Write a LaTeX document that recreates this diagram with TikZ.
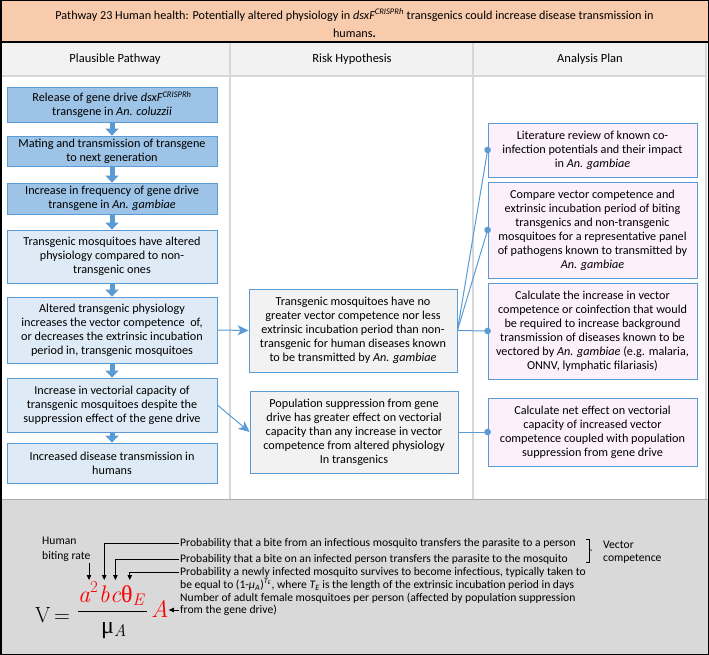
\documentclass[tikz,border=0pt]{standalone}
\usepackage{fontspec}
\newfontfamily\carl{Carlito}
\newfontfamily\grk{Liberation Serif}
\usetikzlibrary{arrows.meta}
\definecolor{titleor}{RGB}{248,203,173}
\definecolor{hdrgray}{RGB}{242,242,242}
\definecolor{gridgray}{RGB}{215,215,215}
\definecolor{formgray}{RGB}{217,217,217}
\definecolor{bordblue}{RGB}{91,155,213}
\definecolor{darkblue}{RGB}{157,195,230}
\definecolor{lightblue}{RGB}{222,235,247}
\definecolor{boxgray}{RGB}{242,242,242}
\definecolor{boxpink}{RGB}{252,240,252}
\definecolor{fred}{RGB}{255,0,0}
\begin{document}
\begin{tikzpicture}[x=1pt,y=-1pt,
  box/.style={draw=bordblue, line width=0.8pt, align=center, inner sep=0pt,
    font=\carl\fontsize{12.2}{14}\selectfont},
  lbox/.style={box, minimum width=210pt},
  dbox/.style={lbox, fill=darkblue},
  ebox/.style={lbox, fill=lightblue},
  mbox/.style={box, fill=boxgray, minimum width=208pt},
  rbox/.style={box, fill=boxpink, minimum width=209pt},
  barrow/.style={draw=bordblue, line width=5pt, -{Triangle[width=13pt,length=7pt]}},
  harrow/.style={draw=bordblue, line width=1pt, -{Stealth[length=11pt,width=10pt,inset=3pt]}},
  dotline/.style={draw=bordblue, line width=1pt, -{Circle[length=6.5pt,width=6.5pt]}, shorten >=-3.25pt},
  hdr/.style={font=\carl\fontsize{12.5}{14}\selectfont, inner sep=1pt},
  flab/.style={font=\carl\fontsize{11.6}{12}\selectfont, inner sep=1pt, anchor=west, align=left},
  fm/.style={inner sep=0pt, font=\fontsize{24}{28}\selectfont, anchor=base west},
  farrow/.style={draw=black, line width=0.8pt, -{Triangle[length=5pt,width=4.5pt]}}
]
\useasboundingbox (0,0) rectangle (709,655);
% frame and table
\fill[titleor] (0,0) rectangle (709,42);
\fill[hdrgray] (1,43) rectangle (707,76);
\fill[white] (1,76) rectangle (707,499);
\draw[gridgray, line width=1.5pt] (1,76) -- (707,76);
\draw[gridgray, line width=1.5pt] (230,43) -- (230,499);
\draw[gridgray, line width=1.5pt] (473,43) -- (473,499);
\draw[gridgray, line width=1.5pt] (706,43) -- (706,499);
\fill[formgray] (0,499) rectangle (709,655);
\draw[gridgray!80!black, line width=0.8pt] (1,499) -- (708,499);
\draw[black, line width=2pt] (0,42) -- (709,42);
\draw[black, line width=1.5pt] (0.75,0.75) rectangle (708.25,654.25);

\node[font=\carl\fontsize{12.2}{18}\selectfont, align=center] (title) at (354.5,23)
  {Pathway 23 Human health: Potentially altered physiology in {\itshape dsxF\textsuperscript{CRISPRh}} transgenics could increase disease transmission in\\humans{\bfseries .}};
\node[hdr] (h1) at (115,59) {Plausible Pathway};
\node[hdr] (h2) at (352,59) {Risk Hypothesis};
\node[hdr] (h3) at (590,59) {Analysis Plan};

% left column
\node[dbox, minimum height=35pt] (b1) at (112,104.5) {Release of gene drive {\itshape dsxF\textsuperscript{CRISPRh}}\\transgene in {\itshape An. coluzzii}};
\node[dbox, minimum height=30pt] (b2) at (112,151) {Mating and transmission of transgene\\to next generation};
\node[dbox, minimum height=31pt] (b3) at (112,198.5) {Increase in frequency of gene drive\\transgene in {\itshape An. gambiae}};
\node[ebox, minimum height=53pt] (b4) at (112,256.5) {Transgenic mosquitoes have altered\\physiology compared to non-\\transgenic ones};
\node[ebox, minimum height=66pt] (b5) at (112,330) {Altered transgenic physiology\\increases the vector competence\ \ of,\\or decreases the extrinsic incubation\\period in, transgenic mosquitoes};
\node[ebox, minimum height=54pt] (b6) at (112,405) {Increase in vectorial capacity of\\transgenic mosquitoes despite the\\suppression effect of the gene drive};
\node[ebox, minimum height=40pt] (b7) at (112,463) {Increased disease transmission in\\humans};
\draw[barrow] (b1) -- (b2);
\draw[barrow] (b2) -- (b3);
\draw[barrow] (b3) -- (b4);
\draw[barrow] (b4) -- (b5);
\draw[barrow] (b5) -- (b6);
\draw[barrow] (b6) -- (b7);

% middle column
\node[mbox, minimum height=83pt] (m1) at (353,330.5) {Transgenic mosquitoes have no\\greater vector competence nor less\\extrinsic incubation period than non-\\transgenic for human diseases known\\to be transmitted by {\itshape An. gambiae}};
\node[mbox, minimum height=82pt] (m2) at (354,432) {Population suppression from gene\\drive has greater effect on vectorial\\capacity than any increase in vector\\competence from altered physiology\\In transgenics};

% right column
\node[rbox, minimum height=54pt] (r1) at (592.5,150) {Literature review of known co-\\infection potentials and their impact\\in {\itshape An. gambiae}};
\node[rbox, minimum height=96pt] (r2) at (592.5,230) {Compare vector competence and\\extrinsic incubation period of biting\\transgenics and non-transgenic\\mosquitoes for a representative panel\\of pathogens known to transmitted by\\{\itshape An. gambiae}};
\node[rbox, minimum height=96pt] (r3) at (592.5,331) {Calculate the increase in vector\\competence or coinfection that would\\be required to increase background\\transmission of diseases known to be\\vectored by {\itshape An. gambiae} (e.g. malaria,\\ONNV, lymphatic filariasis)};
\node[rbox, minimum height=68pt] (r4) at (592.5,432) {Calculate net effect on vectorial\\capacity of increased vector\\competence coupled with population\\suppression from gene drive};

% connectors
\draw[harrow] (b5.east) -- (m1.west);
\draw[harrow] (b6.east) -- (m2.west);
\draw[dotline] (m1.east) -- (r1.west);
\draw[dotline] (m1.east) -- (r2.west);
\draw[dotline] (m1.east) -- (r3.west);
\draw[dotline] (m2.east) -- (r4.west);

% formula
\node[fm, font=\fontsize{22}{26}\selectfont] (nV) at (35,622) {V\,=};
\node[fm, text=fred] (na) at (78,602) {{\itshape a}\textsuperscript{2}};
\node[fm, text=fred] (nb) at (na.base east) {\itshape b};
\node[fm, text=fred] (nc) at (nb.base east) {\itshape c};
\node[fm, text=fred] (nth) at (nc.base east) {{\grk θ}\textsubscript{\itshape E}};
\draw[black, line width=0.9pt] (78,611) -- (147,611);
\node[fm] (nmu) at (101,633) {{\grk μ}\textsubscript{\itshape A}};
\node[fm, text=fred] (nA) at (151,617) {\itshape A};
\coordinate (tipline) at (0,580);

\node[flab, anchor=north west, font=\carl\fontsize{11.6}{15}\selectfont] (hb) at (41,536) {Human\\biting rate};
\node[flab] (t1) at (179,543) {Probability that a bite from an infectious mosquito transfers the parasite to a person};
\node[flab] (t2) at (179,559) {Probability that a bite on an infected person transfers the parasite to the mosquito};
\node[flab] (t3) at (179,572) {Probability a newly infected mosquito survives to become infectious, typically taken to};
\node[flab] (t3b) at (179,584.5) {be equal to (1-{\itshape μ}\textsubscript{\itshape A})\textsuperscript{\itshape T\textsubscript{E}}, where {\itshape T\textsubscript{E}} is the length of the extrinsic incubation period in days};
\node[flab] (t4) at (179,598) {Number of adult female mosquitoes per person (affected by population suppression};
\node[flab] (t4b) at (179,610) {from the gene drive)};
\node[flab, font=\carl\fontsize{11.6}{12.5}\selectfont] (vc) at (602,552) {Vector\\competence};

\draw[farrow] (hb.south -| 89,0) -- (89,0 |- tipline);
\draw[farrow] (t1.west) -| (nb.center |- tipline);
\draw[farrow] (t2.west) -| (nc.center |- tipline);
\draw[farrow] (t3.west) -| ([xshift=-3pt]nth.center |- tipline);
\draw[farrow] (t4b.west) -- (t4b.west -| nA.east);
\draw[black, line width=0.6pt] (586,539) -- (589,539) -- (589,562) -- (586,562);
\draw[black, line width=0.6pt] (589,549) -- (592,550.5);
\end{tikzpicture}
\end{document}
